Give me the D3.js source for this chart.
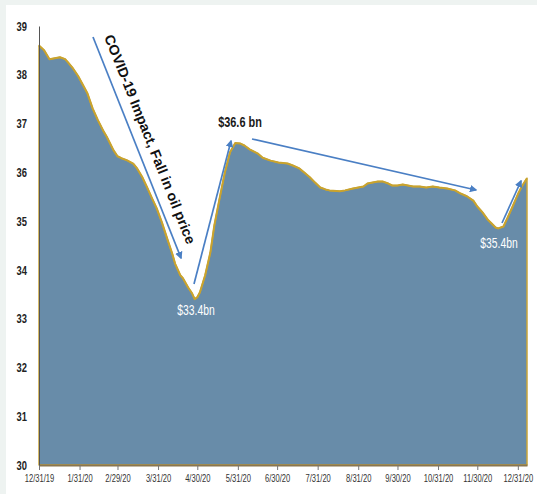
<!DOCTYPE html>
<html>
<head>
<meta charset="utf-8">
<script src="https://cdn.jsdelivr.net/npm/d3@7"></script>
<style>
  html, body { margin: 0; padding: 0; background: #eef3f1; }
  svg { display: block; }
  text { font-family: "Liberation Sans", Arial, sans-serif; }
</style>
</head>
<body>
<svg id="chart" width="537" height="494"></svg>
<script>
// Reserves, US$ billions, end-2019 to early 2021
const dates = [
  "2019-12-31","2020-01-04","2020-01-08","2020-01-12","2020-01-16","2020-01-20","2020-01-22","2020-01-26",
  "2020-01-30","2020-02-02","2020-02-06","2020-02-10","2020-02-14","2020-02-18","2020-02-21","2020-02-26",
  "2020-02-29","2020-03-03","2020-03-07","2020-03-12","2020-03-15","2020-03-19","2020-03-23","2020-03-26",
  "2020-03-30","2020-04-03","2020-04-07","2020-04-11","2020-04-13","2020-04-17","2020-04-19","2020-04-23",
  "2020-04-26","2020-04-28","2020-04-30","2020-05-02","2020-05-06","2020-05-10","2020-05-13","2020-05-17",
  "2020-05-21","2020-05-25","2020-05-29","2020-06-02","2020-06-05","2020-06-09","2020-06-15","2020-06-19",
  "2020-06-25","2020-07-01","2020-07-08","2020-07-12","2020-07-17","2020-07-21","2020-07-25","2020-07-29",
  "2020-08-02","2020-08-06","2020-08-09","2020-08-17","2020-08-21","2020-08-27","2020-08-31","2020-09-04",
  "2020-09-07","2020-09-11","2020-09-15","2020-09-19","2020-09-23","2020-09-26","2020-09-30","2020-10-04",
  "2020-10-08","2020-10-12","2020-10-17","2020-10-22","2020-10-27","2020-11-01","2020-11-07","2020-11-13",
  "2020-11-17","2020-11-22","2020-11-27","2020-11-30","2020-12-04","2020-12-08","2020-12-11","2020-12-14",
  "2020-12-16","2020-12-20","2020-12-23","2020-12-27","2020-12-31","2021-01-03","2021-01-07"
];
const values = [
  38.60, 38.50, 38.32, 38.34, 38.36, 38.32, 38.26, 38.13,
  37.97, 37.82, 37.62, 37.31, 37.07, 36.86, 36.72, 36.45,
  36.33, 36.29, 36.25, 36.18, 36.08, 35.90, 35.67, 35.49,
  35.26, 34.97, 34.64, 34.32, 34.13, 33.89, 33.83, 33.64,
  33.52, 33.40, 33.44, 33.54, 33.89, 34.36, 34.91, 35.46,
  35.99, 36.41, 36.60, 36.59, 36.55, 36.47, 36.39, 36.30,
  36.24, 36.20, 36.18, 36.14, 36.08, 35.99, 35.90, 35.79,
  35.69, 35.65, 35.63, 35.61, 35.63, 35.67, 35.69, 35.71,
  35.77, 35.79, 35.81, 35.81, 35.77, 35.73, 35.73, 35.75,
  35.73, 35.71, 35.71, 35.69, 35.71, 35.69, 35.67, 35.63,
  35.57, 35.51, 35.42, 35.30, 35.18, 35.03, 34.95, 34.87,
  34.85, 34.89, 35.06, 35.30, 35.55, 35.71, 35.88
];
const tickDates = [
  "2019-12-31","2020-01-31","2020-02-29","2020-03-31","2020-04-30","2020-05-31","2020-06-30",
  "2020-07-31","2020-08-31","2020-09-30","2020-10-31","2020-11-30","2020-12-31"
];
const tickLabels = [
  "12/31/19","1/31/20","2/29/20","3/31/20","4/30/20","5/31/20","6/30/20",
  "7/31/20","8/31/20","9/30/20","10/31/20","11/30/20","12/31/20"
];
const yTicks = [30, 31, 32, 33, 34, 35, 36, 37, 38, 39];
const annotationTexts = {
  covid: "COVID-19 Impact, Fall in oil price",
  trough: "$33.4bn",
  peak: "$36.6 bn",
  dip: "$35.4bn"
};

const parse = d3.timeParse("%Y-%m-%d");
const data = dates.map((d, i) => ({ date: parse(d), value: values[i] }));

// squeeze glyphs horizontally about each text's anchor x for a condensed look
function condense(sel, factor) {
  sel.each(function () {
    const ax = +(this.getAttribute("x") || 0);
    d3.select(this)
      .attr("transform", `translate(${ax},0) scale(${factor},1) translate(${-ax},0)`);
  });
}

const svg = d3.select("#chart");

// white panel
svg.append("rect").attr("x", 6).attr("y", 5).attr("width", 531).attr("height", 489).attr("fill", "#ffffff");

const x = d3.scaleTime()
  .domain([parse("2019-12-31"), parse("2021-01-07")])
  .range([39, 527]);
const y = d3.scaleLinear().domain([30, 39]).range([465, 26]);

// filled area
const area = d3.area()
  .x(d => x(d.date))
  .y0(y(30))
  .y1(d => y(d.value));
svg.append("path")
  .datum(data)
  .attr("d", area)
  .attr("fill", "#688ca9")
  .attr("stroke", "#c9a53a")
  .attr("stroke-width", 1.5)
  .attr("stroke-linejoin", "round");

// golden outline along the top
const line = d3.line().x(d => x(d.date)).y(d => y(d.value));
svg.append("path")
  .datum(data)
  .attr("d", line)
  .attr("fill", "none")
  .attr("stroke", "#c9a32e")
  .attr("stroke-width", 2)
  .attr("stroke-linejoin", "round");

// x axis
const xAxis = d3.axisBottom(x)
  .tickValues(tickDates.map(parse))
  .tickFormat((d, i) => tickLabels[i])
  .tickSize(5)
  .tickSizeOuter(0);
const gx = svg.append("g").attr("transform", `translate(0,${y(30)})`).call(xAxis);
gx.select(".domain").attr("stroke", "#8a7650").attr("stroke-width", 2);
gx.selectAll(".tick line").attr("stroke", "#777");
gx.selectAll(".tick text")
  .attr("font-size", 10)
  .attr("fill", "#333")
  .attr("dy", "0.95em")
  .call(condense, 0.76);

// y axis
const yAxis = d3.axisLeft(y).tickValues(yTicks).tickSize(0).tickPadding(12).tickFormat(d3.format("d"));
const gy = svg.append("g").attr("transform", `translate(39,0)`).call(yAxis);
gy.select(".domain").attr("stroke", "#555").attr("stroke-width", 1);
gy.selectAll(".tick text")
  .attr("font-size", 13)
  .attr("font-weight", "bold")
  .attr("fill", "#222")
  .call(condense, 0.72);

// arrow marker
const defs = svg.append("defs");
defs.append("marker")
  .attr("id", "arrow")
  .attr("viewBox", "0 0 10 10")
  .attr("refX", 8).attr("refY", 5)
  .attr("markerWidth", 4.5).attr("markerHeight", 4.5)
  .attr("orient", "auto")
  .append("path").attr("d", "M0,0 L10,5 L0,10 z").attr("fill", "#4a7fc4");

function arrow(x1, y1, x2, y2) {
  svg.append("line")
    .attr("x1", x1).attr("y1", y1).attr("x2", x2).attr("y2", y2)
    .attr("stroke", "#4a7fc4").attr("stroke-width", 1.7)
    .attr("marker-end", "url(#arrow)");
}

// fall
arrow(93, 37, 181, 258);
// rebound
arrow(194, 284, 231, 141);
// slow decline
arrow(252, 139, 476, 190);
// year-end recovery
arrow(502, 223, 521, 181);

// diagonal caption
const ang = Math.atan2(258 - 37, 181 - 93) * 180 / Math.PI;
svg.append("text")
  .attr("transform", `translate(104,37) rotate(${ang})`)
  .attr("font-size", 14)
  .attr("font-weight", "bold")
  .attr("fill", "#111")
  .attr("textLength", 224)
  .attr("lengthAdjust", "spacingAndGlyphs")
  .text(annotationTexts.covid);

svg.append("text")
  .attr("x", 240).attr("y", 127)
  .attr("text-anchor", "middle")
  .attr("font-size", 14)
  .attr("font-weight", "bold")
  .attr("fill", "#1a1a1a")
  .text(annotationTexts.peak)
  .call(condense, 0.78);

svg.append("text")
  .attr("x", 196).attr("y", 315)
  .attr("text-anchor", "middle")
  .attr("font-size", 14)
  .attr("fill", "#ffffff")
  .text(annotationTexts.trough)
  .call(condense, 0.74);

svg.append("text")
  .attr("x", 499).attr("y", 248)
  .attr("text-anchor", "middle")
  .attr("font-size", 14)
  .attr("fill", "#ffffff")
  .text(annotationTexts.dip)
  .call(condense, 0.74);
</script>
</body>
</html>
